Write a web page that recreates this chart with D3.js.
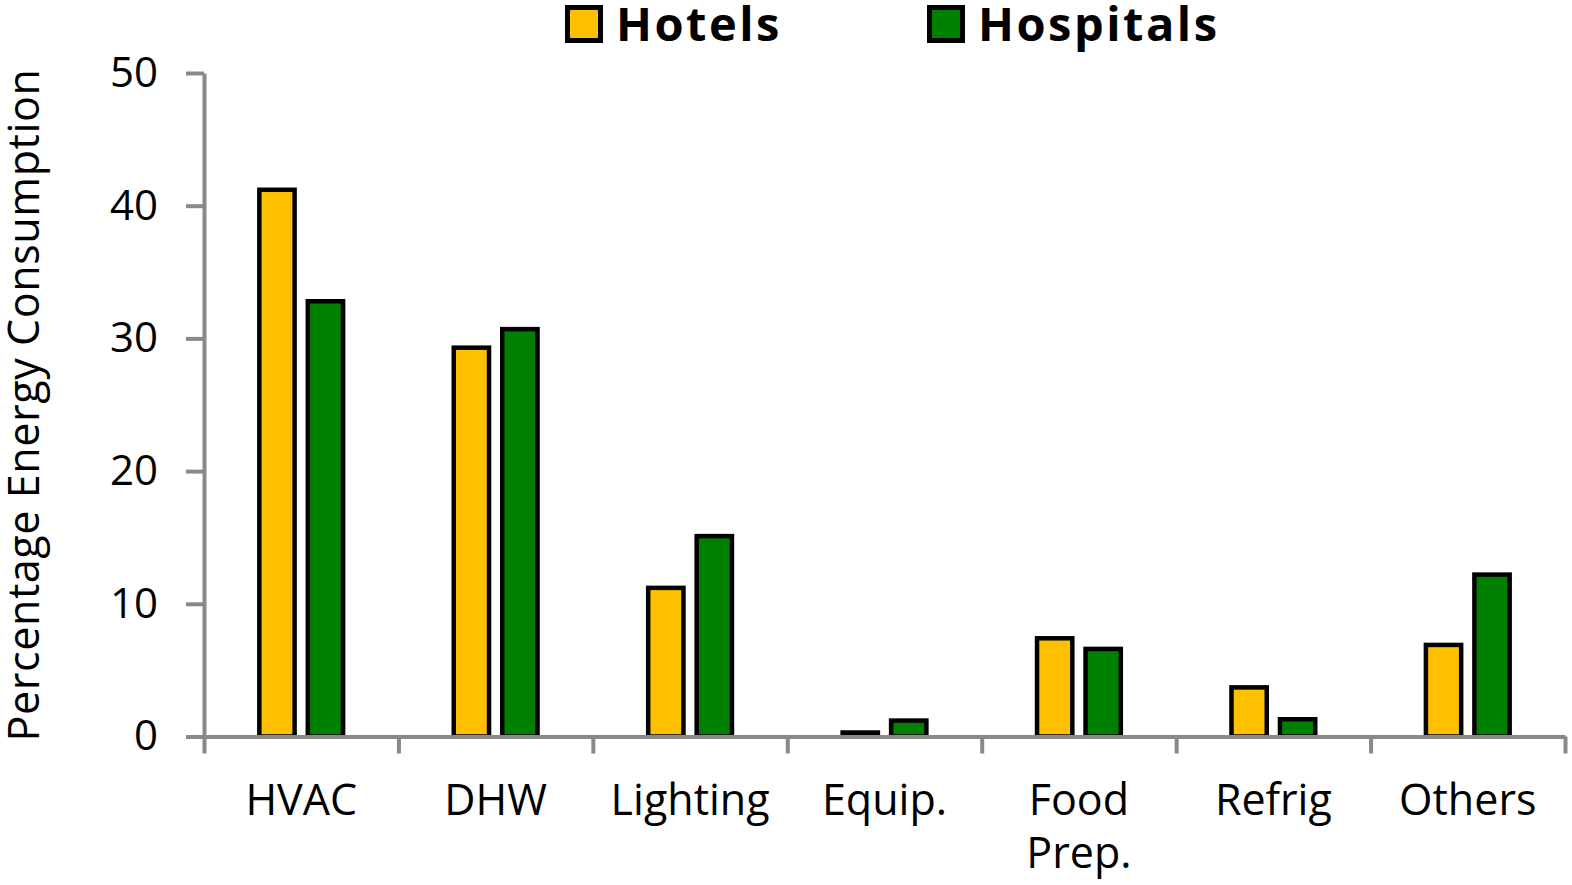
<!DOCTYPE html>
<html><head><meta charset="utf-8">
<script src="https://cdn.jsdelivr.net/npm/d3@7"></script>
<style>body{margin:0;background:#fff}svg{display:block}text{font-family:"Open Sans",sans-serif}</style>
</head><body>
<svg id="c" width="1572" height="885"></svg>
<script>
const categories = ["HVAC","DHW","Lighting","Equip.","Food Prep.","Refrig","Others"];
const seriesNames = ["Hotels","Hospitals"];
const hotels = [41.2, 29.3, 11.2, 0.3, 7.4, 3.7, 6.9];
const hospitals = [32.8, 30.7, 15.1, 1.2, 6.6, 1.3, 12.2];
const yTicks = [0,10,20,30,40,50];
const colors = ["#FFC000","#008000"];

const svg = d3.select("#c");
const x0 = 204, x1 = 1565, yTop = 73, yBot = 736.5;
const x = d3.scaleBand().domain(categories).range([x0,x1]).paddingInner(0).paddingOuter(0);
const xs = d3.scaleBand().domain(seriesNames).range([0,x.bandwidth()]).paddingInner(0.19).paddingOuter(1.1);
const y = d3.scaleLinear().domain([0,50]).range([yBot,yTop]);

const data = categories.map((c,i)=>({c, vals:[hotels[i],hospitals[i]]}));
const g = svg.append("g");
g.selectAll("g.cat").data(data).join("g").attr("class","cat")
 .attr("transform",d=>`translate(${x(d.c)},0)`)
 .selectAll("rect").data(d=>d.vals.map((v,j)=>({v,s:seriesNames[j],j})))
 .join("rect")
 .attr("x",d=>xs(d.s)+2).attr("width",xs.bandwidth()-4)
 .attr("y",d=>y(d.v)).attr("height",d=>yBot-y(d.v))
 .attr("fill",d=>colors[d.j]).attr("stroke","#000").attr("stroke-width",4.5);

// axes
const yAxis = d3.axisLeft(y).tickValues(yTicks).tickSize(18).tickPadding(28).tickSizeOuter(0);
const ya = svg.append("g").attr("transform",`translate(${x0},0)`).call(yAxis);
ya.select(".domain").attr("stroke","#898989").attr("stroke-width",4);
ya.selectAll(".tick line").attr("stroke","#898989").attr("stroke-width",4);
ya.selectAll(".tick text").attr("font-size",42).attr("fill","#000").attr("font-family","Open Sans");

const xb = d3.scaleLinear().domain([0,categories.length]).range([x0,x1]);
const xa = svg.append("g").attr("transform",`translate(0,${yBot})`)
 .call(d3.axisBottom(xb).tickValues(d3.range(0,categories.length+1)).tickSize(17).tickFormat("").tickSizeOuter(0));
xa.select(".domain").attr("stroke","#898989").attr("stroke-width",4);
xa.selectAll(".tick line").attr("stroke","#898989").attr("stroke-width",4);

// x labels
svg.append("g").selectAll("text").data(categories).join("text")
 .attr("x",d=>x(d)+x.bandwidth()/2).attr("y",815).attr("text-anchor","middle")
 .attr("font-size",43).attr("fill","#000")
 .each(function(d){
   const parts = d.split(" ");
   d3.select(this).selectAll("tspan").data(parts).join("tspan")
     .attr("x",x(d)+x.bandwidth()/2).attr("dy",(p,i)=>i===0?0:53).text(p=>p);
 });

// y label
svg.append("text").attr("transform","translate(39,405) rotate(-90)")
 .attr("text-anchor","middle").attr("font-size",43).attr("letter-spacing",0.6).attr("fill","#000")
 .text("Percentage Energy Consumption");

// legend
const leg = [{n:"Hotels",x:565},{n:"Hospitals",x:927}];
const lg = svg.append("g").selectAll("g").data(leg).join("g")
 .attr("transform",d=>`translate(${d.x},0)`);
lg.append("rect").attr("x",2.5).attr("y",7.5).attr("width",33).attr("height",33)
 .attr("fill",(d,i)=>colors[i]).attr("stroke","#000").attr("stroke-width",5);
lg.append("text").attr("x",51).attr("y",41).attr("font-size",47).attr("font-weight","bold")
 .attr("letter-spacing",2.5)
 .attr("fill","#000").text(d=>d.n);
</script>
</body></html>
